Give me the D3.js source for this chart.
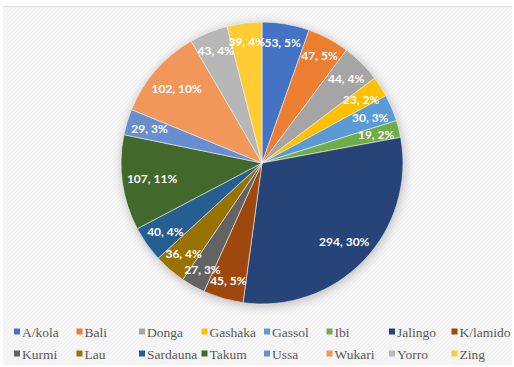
<!DOCTYPE html>
<html>
<head>
<meta charset="utf-8">
<script src="https://cdn.jsdelivr.net/npm/d3@7"></script>
<style>
  html, body { margin: 0; padding: 0; background: #ffffff; }
  svg { display: block; }
  .legend text { font-family: "Liberation Serif", "DejaVu Serif", serif; font-size: 13.5px; fill: #595959; }
</style>
</head>
<body>
<svg id="chart" width="514" height="367"></svg>
<script>
// Local government areas and their counts
const categories = ["A/kola", "Bali", "Donga", "Gashaka", "Gassol", "Ibi", "Jalingo", "K/lamido",
                    "Kurmi", "Lau", "Sardauna", "Takum", "Ussa", "Wukari", "Yorro", "Zing"];
const values = [53, 47, 44, 23, 30, 19, 294, 45, 27, 36, 40, 107, 29, 102, 43, 39];
const colors = ["#4472C4", "#ED7D31", "#A5A5A5", "#FFC000", "#5B9BD5", "#70AD47", "#264478", "#9E480E",
                "#636363", "#997300", "#255E91", "#43682B", "#698ED0", "#F1975A", "#B7B7B7", "#FFCD33"];

const W = 514, H = 367;
const cx = 262, cy = 163, R = 141;

const svg = d3.select("#chart");
const defs = svg.append("defs");

// light diagonal texture for the chart area
const pat = defs.append("pattern").attr("id", "tex").attr("width", 4).attr("height", 4)
  .attr("patternUnits", "userSpaceOnUse");
pat.append("rect").attr("width", 4).attr("height", 4).attr("fill", "#f6f6f6");
pat.append("path").attr("d", "M0,4 L4,0").attr("stroke", "#efefef").attr("stroke-width", 1);

const shadow = defs.append("filter").attr("id", "shadow")
  .attr("x", "-20%").attr("y", "-20%").attr("width", "140%").attr("height", "140%");
shadow.append("feGaussianBlur").attr("stdDeviation", 5);

svg.append("rect").attr("width", W).attr("height", H).attr("fill", "#ffffff");
svg.append("rect").attr("x", 3).attr("y", 6).attr("width", W - 5).attr("height", H - 8)
  .attr("fill", "url(#tex)");
svg.append("line").attr("x1", 3).attr("x2", W - 2).attr("y1", 6.5).attr("y2", 6.5)
  .attr("stroke", "#dcdcdc").attr("stroke-width", 1);

const g = svg.append("g").attr("transform", `translate(${cx},${cy})`);

// soft shadow behind the pie
g.append("circle").attr("r", R + 1).attr("cx", 1).attr("cy", 2)
  .attr("fill", "#9a9a9a").attr("opacity", 0.55).attr("filter", "url(#shadow)");

const total = d3.sum(values);
const data = categories.map((c, i) => ({ name: c, value: values[i], color: colors[i] }));

const pie = d3.pie().value(d => d.value).sort(null);
const arc = d3.arc().innerRadius(0).outerRadius(R);
const arcs = pie(data);

g.selectAll("path.slice").data(arcs).join("path")
  .attr("class", "slice")
  .attr("d", arc)
  .attr("fill", d => d.data.color)
  .attr("stroke", "#f4f4f4")
  .attr("stroke-width", 0.6);

// data labels: "value, percent", placed inside the slice near the rim
const labels = g.selectAll("text.lbl").data(arcs).join("text")
  .attr("class", "lbl")
  .attr("text-anchor", "middle")
  .attr("dominant-baseline", "central")
  .attr("font-family", "Lato, 'Open Sans', sans-serif")
  .attr("font-weight", 700)
  .attr("font-size", "12px")
  .attr("fill", "#ffffff")
  .text(d => `${d.data.value}, ${Math.round(d.data.value / total * 100)}%`);

const reach = R - 4;
labels.each(function (d) {
  const a = (d.startAngle + d.endAngle) / 2;
  const bb = this.getBBox();
  const hw = bb.width / 2, hh = 6.5;
  const sx = Math.sin(a), sy = -Math.cos(a);
  // largest radius where the label box still sits inside the rim
  let lo = 0, hi = 122;
  const corner = rho => Math.hypot(Math.abs(rho * sx) + hw, Math.abs(rho * sy) + hh);
  if (corner(hi) > reach) {
    for (let k = 0; k < 30; k++) {
      const mid = (lo + hi) / 2;
      if (corner(mid) > reach) hi = mid; else lo = mid;
    }
  } else lo = hi;
  d3.select(this).attr("x", lo * sx).attr("y", lo * sy);
});

// legend: two rows of eight
const perRow = 8;
const legX = d3.scaleBand().domain(d3.range(perRow)).range([14, 514]);
const legY = d3.scaleBand().domain([0, 1]).range([321, 365]);
const leg = svg.append("g").attr("class", "legend").selectAll("g").data(data).join("g")
  .attr("transform", (d, i) => `translate(${legX(i % perRow)},${legY(Math.floor(i / perRow)) + legY.bandwidth() / 2})`);
leg.append("rect").attr("x", 0).attr("y", -3.5).attr("width", 6).attr("height", 6)
  .attr("fill", d => d.color);
leg.append("text").attr("x", 8).attr("y", 0)
  .attr("dominant-baseline", "central")
  .text(d => d.name);
</script>
</body>
</html>
